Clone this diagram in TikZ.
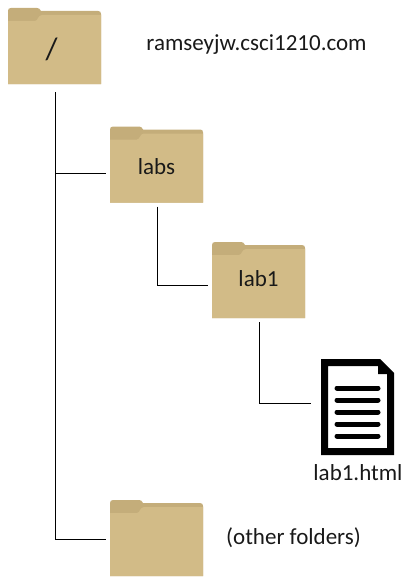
\documentclass[tikz,border=0pt]{standalone}
\usepackage{fontspec}
\setmainfont{Carlito}
\definecolor{folderfront}{HTML}{D2BB87}
\definecolor{folderback}{HTML}{C4AD7A}
\tikzset{
  folder/.style={rectangle,inner sep=0pt,outer sep=4pt,minimum width=93pt,minimum height=76pt},
  docbox/.style={rectangle,inner sep=0pt,outer sep=10pt,minimum width=73pt,minimum height=96pt},
  foldertext/.style={font=\fontsize{23}{25}\selectfont,text=black!90,inner sep=0pt},
  slashtext/.style={font=\fontsize{31}{33}\selectfont,text=black!90,inner sep=0pt},
  plaintext/.style={font=\fontsize{23}{25}\selectfont,text=black!90,inner sep=0pt},
  connector/.style={draw=black,line width=1pt},
  pics/folderpic/.style={code={
    \begin{scope}[shift={(-46.5,-38)}]
      \fill[folderback] (0,76) -- (0,3) .. controls (0,1) and (1,0) .. (3,0) -- (29,0)
        .. controls (31,0) and (32,1) .. (33,3) -- (90,3) .. controls (92,3) and (93,4) .. (93,6) -- (93,76) -- cycle;
      \fill[folderfront] (0,76) -- (0,13) -- (27,13) .. controls (30,13) and (30,7) .. (34,7) -- (93,7) -- (93,76) -- cycle;
    \end{scope}
  }},
  pics/docpic/.style={code={
    \begin{scope}[shift={(-36.5,-48)}]
      \fill[black,even odd rule] (0,0) -- (59,0) -- (73,14) -- (73,96) -- (0,96) -- cycle
        (7,7) -- (57,7) -- (57,15) -- (66,15) -- (66,89) -- (7,89) -- cycle;
      \foreach \yy in {29,41,53,65,77}
        \draw[black,line width=5pt,line cap=round] (16,\yy) -- (57,\yy);
    \end{scope}
  }},
}
\begin{document}
\begin{tikzpicture}[x=1pt,y=-1pt]
\useasboundingbox (0,0) rectangle (412,586);
\node[folder] (root) at (54.5,46) {};
\node[folder] (labs) at (156.5,164.5) {};
\node[folder] (lab1) at (258.5,280) {};
\node[folder] (other) at (156.5,538) {};
\node[docbox] (doc) at (357.5,407) {};
\pic at (root.center) {folderpic};
\pic at (labs.center) {folderpic};
\pic at (lab1.center) {folderpic};
\pic at (other.center) {folderpic};
\pic at (doc.center) {docpic};
\node[slashtext] (roottext) at (51.5,49.5) {/};
\node[foldertext] (labstext) at (156.5,167) {labs};
\node[foldertext] (lab1text) at (258.5,279) {lab1};
\node[plaintext] (site) at (256.5,45) {ramseyjw.csci1210.com};
\node[plaintext] (html) at (358,473) {lab1.html};
\node[plaintext] (otherlabel) at (293.5,538) {(other folders)};
\coordinate (roottop) at ([xshift=1pt,yshift=-4pt]root.south);
\coordinate (labsin) at ([yshift=-9pt]labs.west);
\coordinate (lab1in) at ([yshift=-5.5pt]lab1.west);
\coordinate (docin) at ([yshift=3.5pt]doc.west);
\coordinate (otherin) at ([yshift=-1pt]other.west);
\draw[connector] (roottop) -- (roottop |- otherin) -- (otherin);
\draw[connector] (roottop |- labsin) -- (labsin);
\draw[connector] ([xshift=.5pt]labs.south) -- ([xshift=.5pt]labs.south |- lab1in) -- (lab1in);
\draw[connector] ([xshift=1pt]lab1.south) -- ([xshift=1pt]lab1.south |- docin) -- (docin);
\end{tikzpicture}
\end{document}
